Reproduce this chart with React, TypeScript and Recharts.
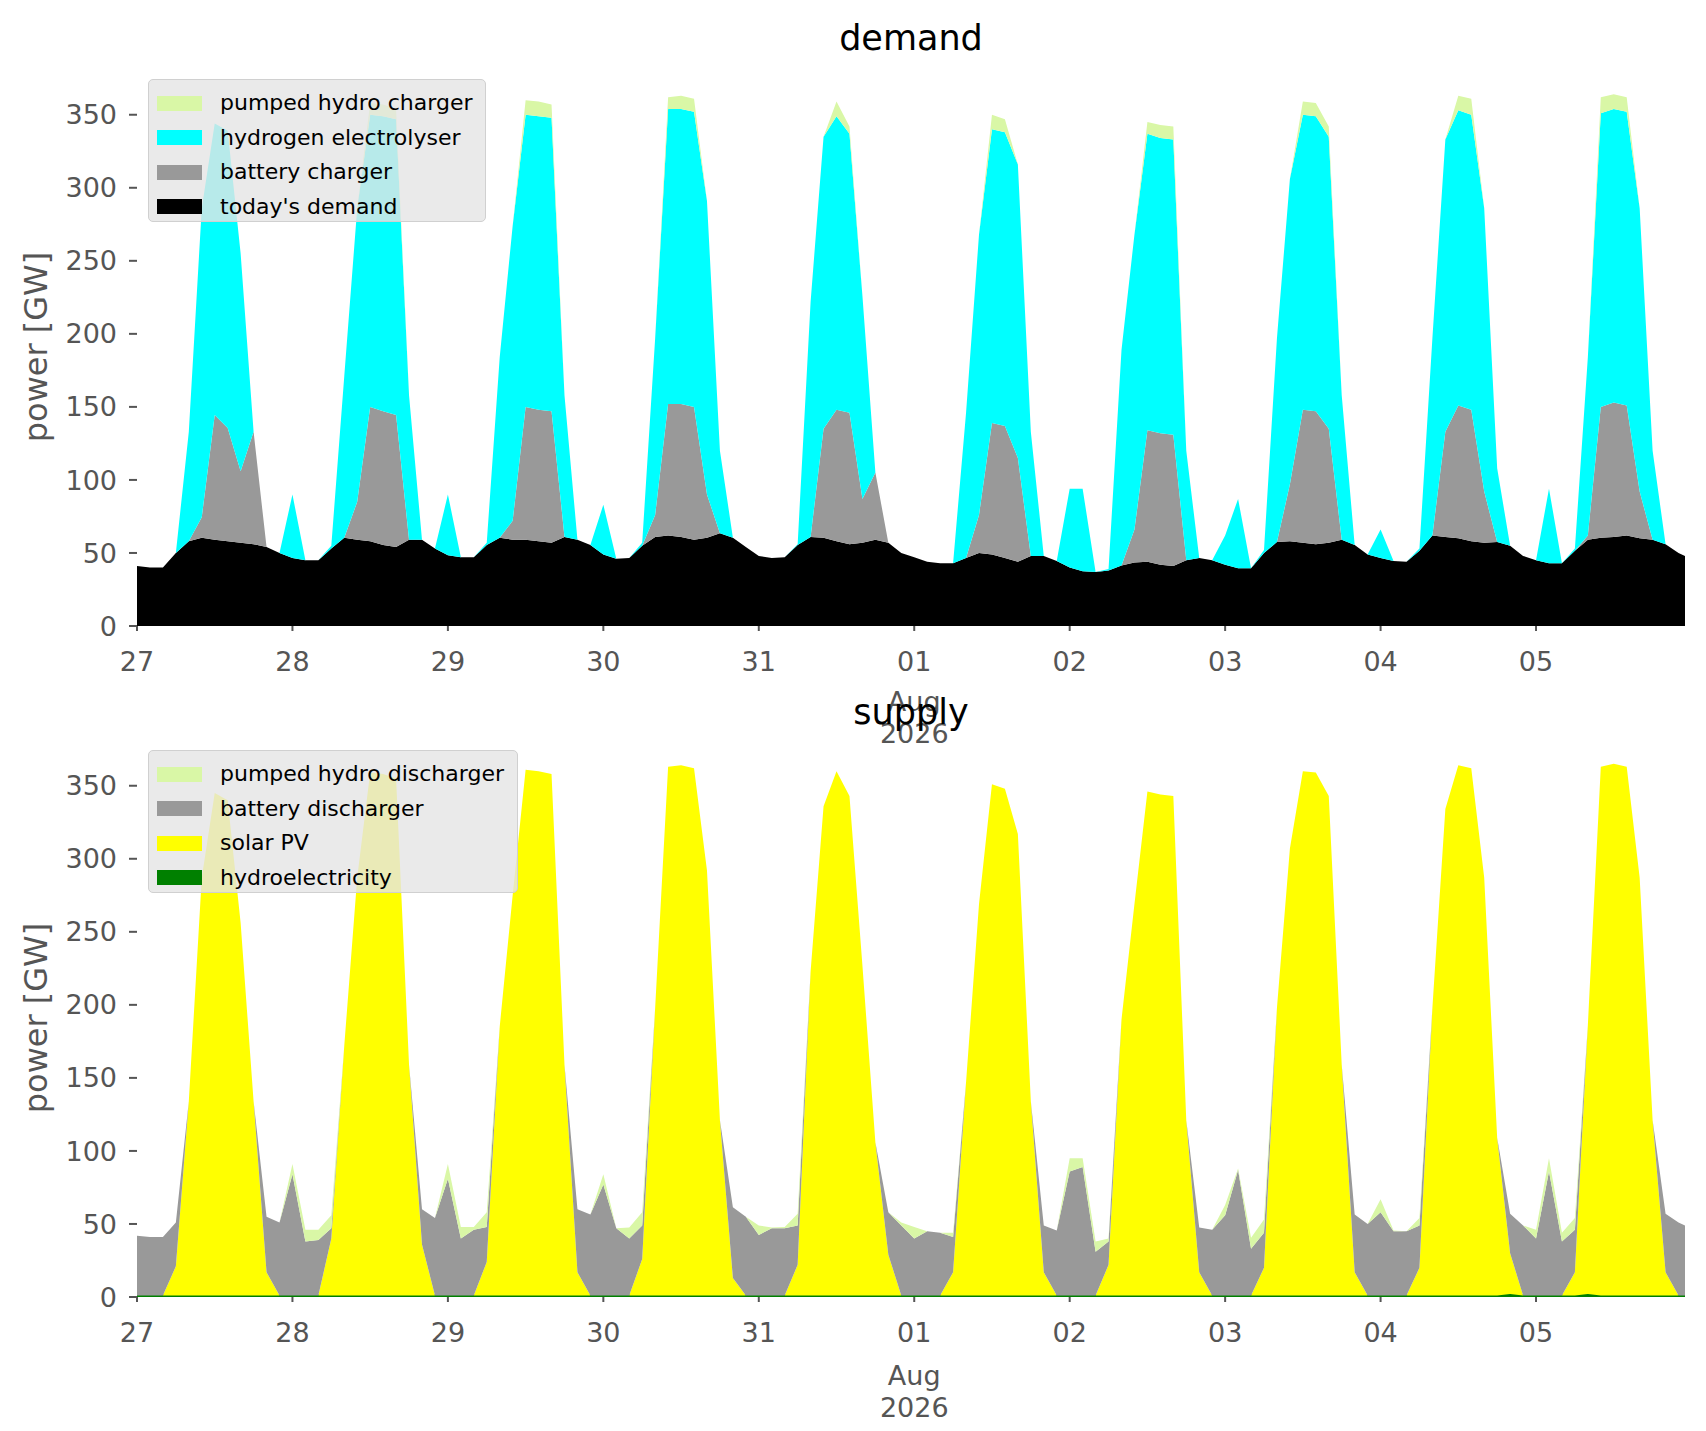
import React from 'react';
import { AreaChart, Area, XAxis, YAxis } from 'recharts';

// x categories: hour offsets from 27 Jul 00:00 (2-hourly, plus the final hour)
const hours: number[] = [...Array.from({ length: 120 }, (_, i) => i * 2), 239];
const dayTicks = [0, 24, 48, 72, 96, 120, 144, 168, 192, 216];
const dayLabels = ['27', '28', '29', '30', '31', '01', '02', '03', '04', '05'];
const yTicks = [0, 50, 100, 150, 200, 250, 300, 350];

// today's demand (GW)
const demand = [
  41, 40, 40, 50, 58, 60.5, 59, 58, 57, 56, 54, 50,
  46.5, 45, 45, 53, 60.5, 59, 58, 55.5, 54, 59, 59, 53,
  48.5, 47, 47, 55.5, 60.5, 59, 59, 58, 57, 61, 59, 55.5,
  49, 46, 46.5, 55, 61, 62, 61, 59, 60.5, 63.5, 60.5, 54,
  48, 46.5, 47, 55.5, 61, 60.5, 58, 56, 57, 59, 57, 50,
  47, 44, 43, 43, 46.5, 50, 49, 46.5, 44, 48, 48, 44.5,
  40, 37.5, 37, 38, 41.5, 43.5, 44, 42, 41, 45, 46.5, 45,
  42, 39.5, 39.5, 50, 57.5, 58, 57, 56, 57, 59, 55.5, 49,
  46.5, 44.5, 44, 51.5, 62, 61, 60, 58, 57, 57.5, 55, 48,
  45, 43, 43, 51.5, 59, 60.5, 61, 62, 60, 59, 56, 50,
  48,
];
// top of the battery-charger layer (demand + battery charger)
const batteryChargerTop = [
  41, 40, 40, 50, 58, 74.5, 144.5, 135.5, 106, 133, 54, 50,
  46.5, 45, 45, 53, 60.5, 85, 150, 147, 144.5, 59, 59, 53,
  48.5, 47, 47, 55.5, 60.5, 72, 150, 148, 147, 61, 59, 55.5,
  49, 46, 46.5, 55, 76, 152, 152, 150, 90, 63.5, 60.5, 54,
  48, 46.5, 47, 55.5, 61, 135, 148, 146, 87, 105, 57, 50,
  47, 44, 43, 43, 46.5, 76, 139, 137, 115, 48, 48, 44.5,
  40, 37.5, 37, 38, 41.5, 66, 134, 132, 131, 45, 46.5, 45,
  42, 39.5, 39.5, 50, 57.5, 97, 148, 147, 135, 59, 55.5, 49,
  46.5, 44.5, 44, 51.5, 62, 133, 151, 148, 92, 57.5, 55, 48,
  45, 43, 43, 51.5, 62, 150, 153, 151, 92, 59, 56, 50,
  48,
];
// top of the hydrogen-electrolyser layer
const electrolyserTop = [
  41, 40, 40, 50, 133, 286, 344, 339, 255, 133, 54, 50,
  90, 45, 45, 55, 171, 286, 350, 349, 347, 158, 59, 53,
  90, 47, 47, 57, 184, 274, 350, 349, 348, 158, 59, 55.5,
  83, 46, 46.5, 57, 197, 354, 354, 352, 291, 120, 60.5, 54,
  48, 46.5, 47, 56, 222, 335, 349, 337, 226, 105, 57, 50,
  47, 44, 43, 43, 146, 268, 340, 338, 316, 133, 48, 44.5,
  94, 94, 37, 39, 189, 268, 337, 334, 333, 120, 46.5, 45,
  62, 87, 39.5, 52, 197, 306, 350, 349, 335, 158, 55.5, 49,
  66, 44.5, 44, 53, 197, 333, 353, 350, 286, 108, 55, 48,
  45, 94, 43, 53, 184, 351, 354, 352, 286, 120, 56, 50,
  48,
];
// total power (top of pumped hydro layer) - equal on both panels
const totalPower = [
  41, 40, 40, 50, 133, 286, 344, 339, 255, 133, 54, 50,
  90, 45, 45, 55, 171, 286, 358, 357, 354, 158, 59, 53,
  90, 47, 47, 57, 184, 274, 360, 359, 357, 158, 59, 55.5,
  83, 46, 46.5, 57, 197, 362, 363, 361, 291, 120, 60.5, 54,
  48, 46.5, 47, 56, 222, 335, 359, 342, 226, 105, 57, 50,
  47, 44, 43, 43, 146, 268, 350, 347, 316, 133, 48, 44.5,
  94, 94, 37, 39, 189, 268, 345, 343, 342, 120, 46.5, 45,
  62, 87, 39.5, 52, 197, 306, 359, 358, 342, 158, 55.5, 49,
  66, 44.5, 44, 53, 197, 333, 363, 361, 286, 108, 55, 48,
  45, 94, 43, 53, 184, 362, 364, 362, 286, 120, 56, 50,
  48,
];
// supply: solar PV
const solarPV = [
  0, 0, 0, 20, 133, 286, 344, 339, 255, 133, 16, 0,
  0, 0, 0, 39, 171, 286, 358, 357, 354, 158, 35, 0,
  0, 0, 0, 23, 184, 274, 360, 359, 357, 158, 16, 0,
  0, 0, 0, 25, 197, 362, 363, 361, 291, 120, 12, 0,
  0, 0, 0, 21, 222, 335, 359, 342, 226, 105, 28, 0,
  0, 0, 0, 16, 146, 268, 350, 347, 316, 133, 16, 0,
  0, 0, 0, 21, 189, 268, 345, 343, 342, 120, 16, 0,
  0, 0, 0, 19, 197, 306, 359, 358, 342, 158, 16, 0,
  0, 0, 0, 19, 197, 333, 363, 361, 286, 108, 28, 0,
  0, 0, 0, 16, 184, 362, 364, 362, 286, 120, 16, 0,
  0,
];
// supply: top of the battery-discharger layer (solar + battery discharger)
const batteryDischargerTop = [
  41, 40, 40, 50, 133, 286, 344, 339, 255, 133, 54, 50,
  83, 37, 38, 46, 171, 286, 358, 357, 354, 158, 59, 53,
  80, 39, 45, 47, 184, 274, 360, 359, 357, 158, 59, 55.5,
  76, 46, 39, 48, 197, 362, 363, 361, 291, 120, 60.5, 54,
  41.5, 46, 46, 48, 222, 335, 359, 342, 226, 105, 57, 48,
  39, 44, 43, 40, 146, 268, 350, 347, 316, 133, 48, 44.5,
  85, 88, 30, 37, 189, 268, 345, 343, 342, 120, 46.5, 45,
  55, 86, 32, 43, 197, 306, 359, 358, 342, 158, 55.5, 49,
  57, 44, 44, 48, 197, 333, 363, 361, 286, 108, 55, 48,
  39, 85, 37, 45, 184, 362, 364, 362, 286, 120, 56, 50,
  48,
];
// supply: hydroelectricity
const hydroelectricity = [
  1, 1, 1, 1, 1, 1, 1, 1, 1, 1, 1, 1,
  1, 1, 1, 1, 1, 1, 1, 1, 1, 1, 1, 1,
  1, 1, 1, 1, 1, 1, 1, 1, 1, 1, 1, 1,
  1, 1, 1, 1, 1, 1, 1, 1, 1, 1, 1, 1,
  1, 1, 1, 1, 1, 1, 1, 1, 1, 1, 1, 1,
  1, 1, 1, 1, 1, 1, 1, 1, 1, 1, 1, 1,
  1, 1, 1, 1, 1, 1, 1, 1, 1, 1, 1, 1,
  1, 1, 1, 1, 1, 1, 1, 1, 1, 1, 1, 1,
  1, 1, 1, 1, 1, 1, 1, 1, 1, 1, 2, 1,
  1, 1, 1, 1, 2, 1, 1, 1, 1, 1, 1, 1,
  1,
];

const pos = (v: number) => Math.max(0, v);
const rows = hours.map((h, i) => ({
  h,
  demand: demand[i],
  battery: pos(batteryChargerTop[i] - demand[i]),
  hydrogen: pos(electrolyserTop[i] - batteryChargerTop[i]),
  pumped: pos(totalPower[i] - electrolyserTop[i]),
  hydro: hydroelectricity[i],
  solar: solarPV[i],
  batteryDis: pos(batteryDischargerTop[i] - solarPV[i]),
  pumpedDis: pos(totalPower[i] - batteryDischargerTop[i]),
}));

const FONT = '"DejaVu Sans", sans-serif';
const GREY = '#555555';
const C = {
  pumped: '#d9f7a6',
  hydrogen: '#00ffff',
  battery: '#999999',
  demand: '#000000',
  solar: '#ffff00',
  hydro: '#008000',
};

const XTick = (props: any) => {
  const { x, y, payload, bottomOffset } = props;
  const idx = dayTicks.indexOf(payload.value);
  const label = idx >= 0 ? dayLabels[idx] : '';
  return (
    <g>
      <text x={x} y={y + 28} textAnchor="middle" dominantBaseline="central" fill={GREY} fontSize={27} fontFamily={FONT}>
        {label}
      </text>
      {label === '01' && (
        <>
          <text x={x} y={y + 28 + bottomOffset} textAnchor="middle" dominantBaseline="central" fill={GREY} fontSize={27} fontFamily={FONT}>Aug</text>
          <text x={x} y={y + 28 + bottomOffset + 32} textAnchor="middle" dominantBaseline="central" fill={GREY} fontSize={27} fontFamily={FONT}>2026</text>
        </>
      )}
    </g>
  );
};

const LegendBox = ({ items, top, width }: { items: [string, string][]; top: number; width: number }) => (
  <div style={{
    position: 'absolute', left: 148, top, width, height: 143, boxSizing: 'border-box',
    background: 'rgba(229,229,229,0.8)', border: '1.5px solid #d0d0d0', borderRadius: 5,
    fontFamily: FONT, fontSize: 22, color: '#000', padding: '6px 0 0 8px',
  }}>
    {items.map(([name, color]) => (
      <div key={name} style={{ height: 34.5, display: 'flex', alignItems: 'center', whiteSpace: 'nowrap' }}>
        <div style={{ width: 45, height: 15, background: color, marginRight: 18 }} />
        <span style={{ lineHeight: 1 }}>{name}</span>
      </div>
    ))}
  </div>
);

const Panel = ({ top, kind }: { top: number; kind: 'demand' | 'supply' }) => (
  <div style={{ position: 'absolute', left: 0, top, width: 1706, height: 760 }}>
    <AreaChart width={1706} height={760} data={rows} margin={{ top: 68, right: 21, left: 57, bottom: 74 }} style={{ overflow: 'visible' }}>
      <XAxis
        dataKey="h" type="number" domain={[0, 239]} ticks={dayTicks} interval={0}
        axisLine={false} tickLine={{ stroke: GREY, strokeWidth: 2 }} tickSize={5} height={60}
        tick={<XTick bottomOffset={kind === 'demand' ? 40 : 43} />}
      />
      <YAxis
        domain={[0, 382]} ticks={yTicks} interval={0} width={80} axisLine={false}
        tickLine={{ stroke: GREY, strokeWidth: 2 }} tickSize={8} tickMargin={12}
        tick={{ fill: GREY, fontSize: 27, fontFamily: FONT }}
      />
      {kind === 'demand' ? (
        <>
          <Area type="linear" dataKey="demand" stackId="s" stroke="none" fill={C.demand} fillOpacity={1} isAnimationActive={false} />
          <Area type="linear" dataKey="battery" stackId="s" stroke="none" fill={C.battery} fillOpacity={1} isAnimationActive={false} />
          <Area type="linear" dataKey="hydrogen" stackId="s" stroke="none" fill={C.hydrogen} fillOpacity={1} isAnimationActive={false} />
          <Area type="linear" dataKey="pumped" stackId="s" stroke="none" fill={C.pumped} fillOpacity={1} isAnimationActive={false} />
        </>
      ) : (
        <>
          <Area type="linear" dataKey="hydro" stackId="s" stroke={C.hydro} strokeWidth={2} fill={C.hydro} fillOpacity={1} isAnimationActive={false} />
          <Area type="linear" dataKey="solar" stackId="s" stroke="none" fill={C.solar} fillOpacity={1} isAnimationActive={false} />
          <Area type="linear" dataKey="batteryDis" stackId="s" stroke="none" fill={C.battery} fillOpacity={1} isAnimationActive={false} />
          <Area type="linear" dataKey="pumpedDis" stackId="s" stroke="none" fill={C.pumped} fillOpacity={1} isAnimationActive={false} />
        </>
      )}
    </AreaChart>
  </div>
);

const Title = ({ text, top }: { text: string; top: number }) => (
  <div style={{ position: 'absolute', left: 137, width: 1548, top, textAlign: 'center', fontFamily: FONT, fontSize: 35, lineHeight: '40px', color: '#000' }}>
    {text}
  </div>
);

const YLabel = ({ centerY }: { centerY: number }) => (
  <div style={{
    position: 'absolute', left: 36 - 150, top: centerY - 20, width: 300, height: 40, textAlign: 'center',
    transform: 'rotate(-90deg)', fontFamily: FONT, fontSize: 32, lineHeight: '40px', color: GREY,
  }}>
    power [GW]
  </div>
);

export default function App() {
  return (
    <div style={{ position: 'absolute', left: 0, top: 0, width: 1706, height: 1431, background: '#fff', overflow: 'hidden' }}>
      <Panel top={0} kind="demand" />
      <Panel top={671} kind="supply" />
      <Title text="demand" top={18} />
      <Title text="supply" top={692} />
      <YLabel centerY={347} />
      <YLabel centerY={1018} />
      <LegendBox top={79} width={338} items={[
        ['pumped hydro charger', C.pumped], ['hydrogen electrolyser', C.hydrogen],
        ['battery charger', C.battery], ["today's demand", C.demand],
      ]} />
      <LegendBox top={750} width={370} items={[
        ['pumped hydro discharger', C.pumped], ['battery discharger', C.battery],
        ['solar PV', C.solar], ['hydroelectricity', C.hydro],
      ]} />
    </div>
  );
}
